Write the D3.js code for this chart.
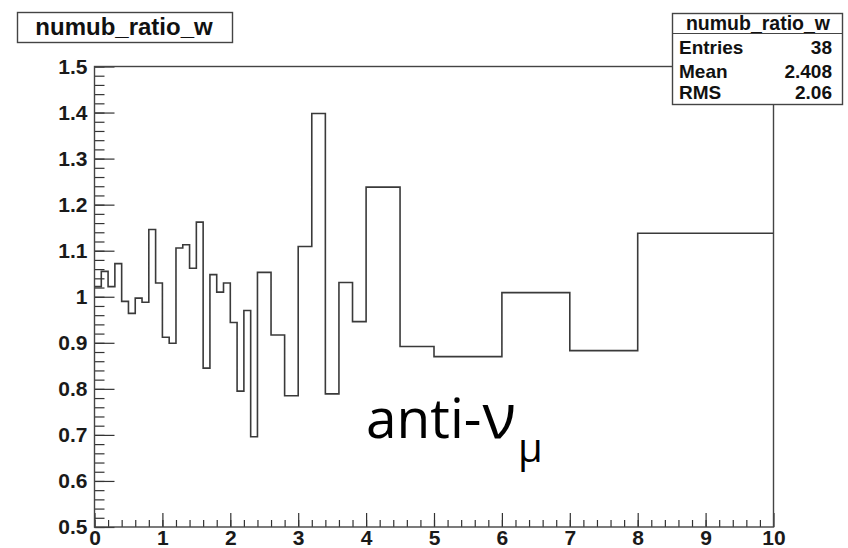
<!DOCTYPE html>
<html>
<head>
<meta charset="utf-8">
<script src="https://cdn.jsdelivr.net/npm/d3@7/dist/d3.min.js"></script>
<style>
  html, body { margin: 0; padding: 0; background: #fff; }
  svg { display: block; }
</style>
</head>
<body>
<svg id="chart" width="848" height="548"></svg>
<script>
// ---- data ----
const histTitle = "numub_ratio_w";
const binEdges = [0, 0.1, 0.2, 0.3, 0.4, 0.5, 0.6, 0.7, 0.8, 0.9, 1.0,
  1.1, 1.2, 1.3, 1.4, 1.5, 1.6, 1.7, 1.8, 1.9, 2.0, 2.1, 2.2, 2.3, 2.4,
  2.6, 2.8, 3.0, 3.2, 3.4, 3.6, 3.8, 4.0, 4.5, 5, 6, 7, 8, 10];
const ratioValues = [1.022, 1.055, 1.022, 1.072, 0.990, 0.964, 0.997, 0.988, 1.146, 1.030,
  0.912, 0.899, 1.106, 1.113, 1.062, 1.162, 0.845, 1.048, 1.010, 1.030,
  0.944, 0.795, 0.970, 0.696, 1.053, 0.917, 0.785, 1.109, 1.398, 0.789,
  1.031, 0.946, 1.238, 0.892, 0.870, 1.009, 0.883, 1.138];
const xTickLabels = [0, 1, 2, 3, 4, 5, 6, 7, 8, 9, 10];
const xMinorTicks = d3.range(0, 50).map(i => i * 0.2);
const yTickLabels = [0.5, 0.6, 0.7, 0.8, 0.9, 1.0, 1.1, 1.2, 1.3, 1.4, 1.5];
const yMinorTicks = d3.range(0, 51).map(i => 0.5 + i * 0.02);
const statsLabels = ["Entries", "Mean", "RMS"];
const statsValues = ["38", "2.408", "2.06"];

// ---- layout ----
const svg = d3.select("#chart");
const pLeft = 94.5, pRight = 773.5, pTop = 66.5, pBottom = 527;
const x = d3.scaleLinear().domain([0, 10]).range([pLeft, pRight]);
const y = d3.scaleLinear().domain([0.5, 1.5]).range([pBottom, pTop]);
const font = "'Liberation Sans', Arial, Helvetica, sans-serif";

// histogram outline
const pts = [];
ratioValues.forEach((v, i) => {
  pts.push([binEdges[i], v]);
  pts.push([binEdges[i + 1], v]);
});
const line = d3.line().x(d => x(d[0])).y(d => y(d[1]));
svg.append("path")
  .attr("d", line(pts))
  .attr("fill", "none")
  .attr("stroke", "#3a3a3a")
  .attr("stroke-width", 1.6);

// axes
const fmtY = d => (d === 1 ? "1" : d3.format(".1f")(d));
const gy = svg.append("g").attr("transform", `translate(${pLeft},0)`);
gy.call(d3.axisLeft(y).tickValues(yTickLabels).tickSize(-20).tickPadding(7).tickFormat(fmtY));
const gym = svg.append("g").attr("transform", `translate(${pLeft},0)`);
gym.call(d3.axisLeft(y).tickValues(yMinorTicks).tickSize(-10).tickFormat(""));

const gx = svg.append("g").attr("transform", `translate(0,${pBottom})`);
gx.call(d3.axisBottom(x).tickValues(xTickLabels).tickSize(-14).tickPadding(3).tickFormat(d3.format("d")));
const gxm = svg.append("g").attr("transform", `translate(0,${pBottom})`);
gxm.call(d3.axisBottom(x).tickValues(xMinorTicks).tickSize(-7).tickFormat(""));

svg.selectAll(".domain").remove();
svg.selectAll(".tick line").attr("stroke", "#333").attr("stroke-width", 1.2);
svg.selectAll(".tick text")
  .attr("fill", "#1a1a1a")
  .style("font-family", font)
  .style("font-weight", "bold")
  .style("font-size", "21px");

// frame
svg.append("rect")
  .attr("x", pLeft).attr("y", pTop)
  .attr("width", pRight - pLeft).attr("height", pBottom - pTop)
  .attr("fill", "none").attr("stroke", "#444").attr("stroke-width", 1.4);

// title box
svg.append("rect")
  .attr("x", 17.5).attr("y", 12.5).attr("width", 215).attr("height", 30)
  .attr("fill", "#fff").attr("stroke", "#444").attr("stroke-width", 1.4);
svg.append("text")
  .attr("x", 124).attr("y", 35)
  .attr("text-anchor", "middle")
  .style("font-family", font).style("font-weight", "bold").style("font-size", "24px")
  .attr("fill", "#111")
  .text(histTitle);

// stats box
const sx0 = 672, sx1 = 842, sy0 = 13, sy1 = 104;
svg.append("rect")
  .attr("x", sx0 + 0.5).attr("y", sy0 + 0.5).attr("width", sx1 - sx0).attr("height", sy1 - sy0)
  .attr("fill", "#fff").attr("stroke", "#444").attr("stroke-width", 1.4);
svg.append("line")
  .attr("x1", sx0).attr("x2", sx1 + 0.5).attr("y1", 33.5).attr("y2", 33.5)
  .attr("stroke", "#444").attr("stroke-width", 1.2);
svg.append("text")
  .attr("x", (sx0 + sx1) / 2 + 1).attr("y", 29.5)
  .attr("text-anchor", "middle")
  .style("font-family", font).style("font-weight", "bold").style("font-size", "19.5px")
  .attr("fill", "#111")
  .text(histTitle);
const rowY = [54, 77.5, 99];
statsLabels.forEach((lab, i) => {
  svg.append("text")
    .attr("x", 679).attr("y", rowY[i])
    .style("font-family", font).style("font-weight", "bold").style("font-size", "19px")
    .attr("fill", "#111").text(lab);
  svg.append("text")
    .attr("x", 832).attr("y", rowY[i]).attr("text-anchor", "end")
    .style("font-family", font).style("font-weight", "bold").style("font-size", "19px")
    .attr("fill", "#111").text(statsValues[i]);
});

// annotation
const ann = svg.append("text")
  .attr("x", 366).attr("y", 438)
  .style("font-family", "'Open Sans', 'Noto Sans', sans-serif")
  .style("font-size", "55px")
  .attr("fill", "#000");
ann.append("tspan").text("anti-");
ann.append("tspan").attr("dx", 1).style("font-size", "62px").text("ν");
ann.append("tspan").attr("dx", 2).attr("dy", 24).style("font-size", "40px").text("μ");
</script>
</body>
</html>
